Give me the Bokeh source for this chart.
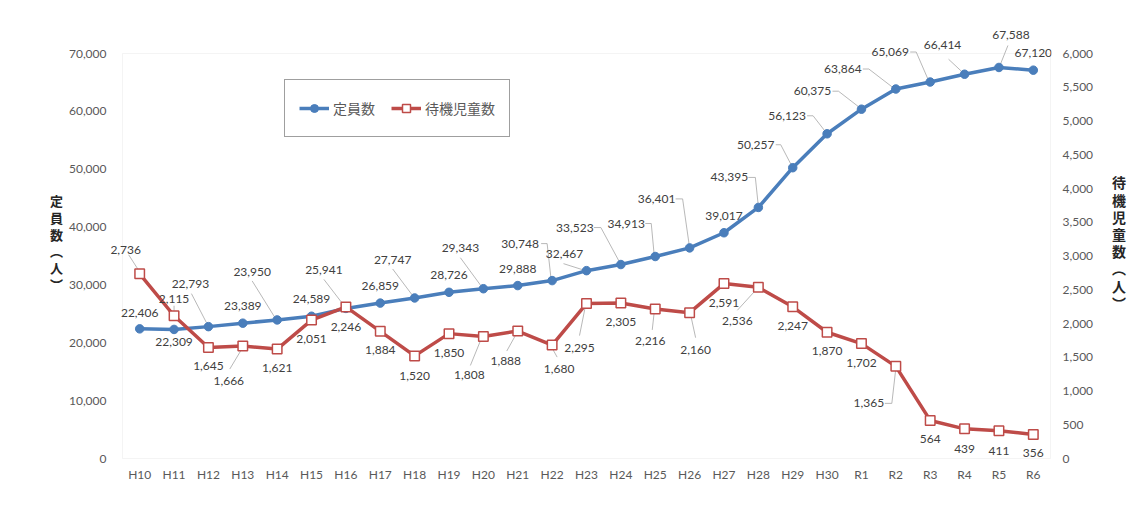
from bokeh.plotting import figure
from bokeh.models import (ColumnDataSource, Range1d, LinearAxis, FixedTicker,
                          NumeralTickFormatter, Legend, LegendItem, LabelSet,
                          BoxAnnotation)
from bokeh.embed import file_html
from bokeh.resources import INLINE
from bokeh.core.properties import value

# ---------------- data ----------------
years = ["H10", "H11", "H12", "H13", "H14", "H15", "H16", "H17", "H18", "H19",
         "H20", "H21", "H22", "H23", "H24", "H25", "H26", "H27", "H28", "H29",
         "H30", "R1", "R2", "R3", "R4", "R5", "R6"]
capacity = [22406, 22309, 22793, 23389, 23950, 24589, 25941, 26859, 27747, 28726,
            29343, 29888, 30748, 32467, 33523, 34913, 36401, 39017, 43395, 50257,
            56123, 60375, 63864, 65069, 66414, 67588, 67120]
waiting = [2736, 2115, 1645, 1666, 1621, 2051, 2246, 1884, 1520, 1850,
           1808, 1888, 1680, 2295, 2305, 2216, 2160, 2591, 2536, 2247,
           1870, 1702, 1365, 564, 439, 411, 356]
left_ticks = [0, 10000, 20000, 30000, 40000, 50000, 60000, 70000]
right_ticks = [0, 500, 1000, 1500, 2000, 2500, 3000, 3500, 4000, 4500, 5000, 5500, 6000]
name_cap = "定員数"
name_wait = "待機児童数"
title_left = "定\n員\n数\n︵\n人\n︶"
title_right = "待\n機\n児\n童\n数\n︵\n人\n︶"

# ---------------- styling: label offsets (pixels, y down) ----------------
cap_off = [(0, -16), (0, 13), (-18, -43), (0, -17), (-25, -48), (0, -17), (-22, -38),
           (0, -17), (-22, -38), (0, -17), (-23, -41), (0, -17), (-32, -37), (-22, -17),
           (-46, -37), (-29, -33), (-33, -49), (0, -17), (-29, -30), (-37, -23),
           (-40, -18), (-49, -18), (-53, -20), (-40, -30), (-22, -29), (12, -32), (0, -17)]
cap_lead = {2: [(-17, -33), (-2, -4)], 4: [(-25, -39), (-2, -2)], 6: [(-22, -29), (-2, -3)],
            8: [(-22, -29), (-1, -1)], 10: [(-23, -31), (-1, -1)],
            12: [(-11, -37), (-5, -37), (-1, -1)], 13: [(-23, -7), (-1, 0)],
            14: [(-27, -37), (-20, -37), (0, 0)], 15: [(-10, -33), (-4, -33), (-1, -1)],
            16: [(-14, -49), (-7, -49), (0, 0)], 18: [(-10, -30), (-3, -30), (0, -1)],
            19: [(-17, -23), (-12, -23), (0, 0)], 20: [(-20, -18), (-14, -18), (0, 0)],
            21: [(-29, -18), (-23, -18), (-1, -1)], 22: [(-33, -20), (-27, -20), (-1, 0)],
            23: [(-20, -30), (-14, -30), (-1, 0)], 24: [(-16, -15), (-1, -1)],
            25: [(9, -22), (1, -2)]}
wait_off = [(-14, -24), (0, -17), (0, 19), (-14, 35), (0, 19), (0, 19), (0, 20), (0, 19),
            (0, 20), (0, 19), (-14, 39), (-12, 30), (7, 24), (-7, 44), (0, 19), (-5, 32),
            (6, 37), (0, 19), (-21, 34), (0, 19), (0, 19), (0, 19), (-27, 37), (0, 19),
            (0, 20), (0, 20), (0, 19)]
wait_lead = {0: [(-11, -19), (-2, -5)], 1: [(0, -10), (0, -5)], 3: [(-13, 23), (-1, 3)],
             10: [(-13, 29), (-2, 2)], 11: [(-11, 20), (-1, 2)], 12: [(5, 12), (0, 3)],
             13: [(-7, 32), (-1, 2)], 15: [(-3, 21), (-1, 3)], 16: [(6, 25), (1, 2)],
             18: [(-21, 23), (-1, 1)], 22: [(-11, 37), (-4, 37), (0, 2)]}

BLUE = "#4a7ebb"
RED = "#be4b48"
GREY_TXT = "#595959"
LBL_TXT = "#404040"
FONT = "Lato"
JFONT = "Noto Sans CJK JP"

n = len(years)
LMAX, RMAX = 70000, 6000
W, H = 1147, 524
# visible plot box (page px): left 122, right 1050, top 53, bottom 458
BOX_W, BOX_H = 928, 405
EXT_L, EXT_R, EXT_T, EXT_B = 12, 1, 28, 1   # frame extended beyond box (px)
FL, FR, FT, FB = 122 - EXT_L, W - 1050 - EXT_R, 53 - EXT_T, H - 458 - EXT_B
px_x = n / BOX_W
px_yl = LMAX / BOX_H
px_yr = RMAX / BOX_H

p = figure(width=W, height=H, output_backend="svg", toolbar_location=None,
           x_range=Range1d(-0.5 - EXT_L * px_x, n - 0.5 + EXT_R * px_x),
           y_range=Range1d(-EXT_B * px_yl, LMAX + EXT_T * px_yl),
           min_border_left=FL, min_border_right=FR, min_border_top=FT,
           min_border_bottom=FB)
p.extra_y_ranges = {"r": Range1d(-EXT_B * px_yr, RMAX + EXT_T * px_yr)}
p.xgrid.visible = False
p.ygrid.visible = False
p.outline_line_color = None
p.background_fill_color = "white"
p.border_fill_color = "white"
p.styles = {"outline": "1px solid #d9d9d9", "outline-offset": "-8px"}

# plot-area box
p.add_layout(BoxAnnotation(left=-0.5, right=n - 0.5, bottom=0, top=LMAX,
                           fill_alpha=0, line_color="#d9d9d9", line_width=1,
                           level="underlay"))

# axes styling
p.xaxis.ticker = FixedTicker(ticks=list(range(n)))
p.xaxis.major_label_overrides = {i: y for i, y in enumerate(years)}
p.yaxis.ticker = FixedTicker(ticks=left_ticks)
p.yaxis.formatter = NumeralTickFormatter(format="0,0")
raxis = LinearAxis(y_range_name="r", ticker=FixedTicker(ticks=right_ticks),
                   formatter=NumeralTickFormatter(format="0,0"))
p.add_layout(raxis, "right")
for ax in [p.xaxis[0], p.yaxis[0], raxis]:
    ax.axis_line_color = None
    ax.major_tick_line_color = None
    ax.minor_tick_line_color = None
    ax.major_label_text_font = FONT
    ax.major_label_text_font_size = "12px"
    ax.major_label_text_color = GREY_TXT
p.xaxis.major_label_standoff = 1
p.yaxis.major_label_standoff = -2
raxis.major_label_standoff = 5

# axis titles: stacked characters
for ax, t, fs, so, lh in [(p.yaxis[0], title_left, "13px", 3, 0.88),
                          (raxis, title_right, "14px", 16, 0.86)]:
    ax.axis_label = t
    ax.axis_label_text_font = JFONT
    ax.axis_label_text_font_size = fs
    ax.axis_label_text_font_style = "bold"
    ax.axis_label_text_color = "#262626"
    ax.axis_label_text_line_height = lh
    ax.axis_label_standoff = so
    if "axis_label_orientation" in ax.properties():
        ax.axis_label_orientation = "horizontal"

xs = list(range(n))

# leader lines
def leaders(vals, leads, per_y):
    lx, ly = [], []
    for i, pts in leads.items():
        lx.append([xs[i] + dx * px_x for dx, dy in pts])
        ly.append([vals[i] - dy * per_y for dx, dy in pts])
    return lx, ly

clx, cly = leaders(capacity, cap_lead, px_yl)
p.multi_line(clx, cly, line_color="#a6a6a6", line_width=0.8)
wlx, wly = leaders(waiting, wait_lead, px_yr)
p.multi_line(wlx, wly, line_color="#a6a6a6", line_width=0.8, y_range_name="r")

# series
src_c = ColumnDataSource(dict(x=xs, y=capacity,
                              t=[f"{v:,}" for v in capacity],
                              dx=[o[0] for o in cap_off], dy=[-o[1] for o in cap_off]))
src_w = ColumnDataSource(dict(x=xs, y=waiting,
                              t=[f"{v:,}" for v in waiting],
                              dx=[o[0] for o in wait_off], dy=[-o[1] for o in wait_off]))

lc = p.line("x", "y", source=src_c, line_color=BLUE, line_width=3.5)
mc = p.scatter("x", "y", source=src_c, marker="circle", size=8.5,
               fill_color=BLUE, line_color=BLUE)
lw = p.line("x", "y", source=src_w, line_color=RED, line_width=3.5, y_range_name="r")
mw = p.scatter("x", "y", source=src_w, marker="square", size=9.5, fill_color="white",
               line_color=RED, line_width=1.5, y_range_name="r")

p.add_layout(LabelSet(x="x", y="y", text="t", source=src_c, x_offset="dx", y_offset="dy",
                      text_font=value(FONT), text_font_size="12px", text_color=LBL_TXT,
                      text_align="center", text_baseline="middle"))
p.add_layout(LabelSet(x="x", y="y", text="t", source=src_w, x_offset="dx", y_offset="dy",
                      text_font=value(FONT), text_font_size="12px", text_color=LBL_TXT,
                      text_align="center", text_baseline="middle", y_range_name="r"))

# legend
legend = Legend(items=[LegendItem(label=name_cap, renderers=[lc, mc]),
                       LegendItem(label=name_wait, renderers=[lw, mw])],
                orientation="horizontal", location=(284 - FL, (H - FB) - 137),
                label_text_font=JFONT, label_text_font_size="14px",
                label_text_color=GREY_TXT, glyph_width=30, glyph_height=20,
                label_height=28, label_standoff=4, spacing=16, padding=14,
                margin=0, border_line_color="#404040", border_line_width=1,
                background_fill_color="white", background_fill_alpha=1)
p.add_layout(legend, "center")

open("out.html", "w").write(file_html(p, INLINE))
